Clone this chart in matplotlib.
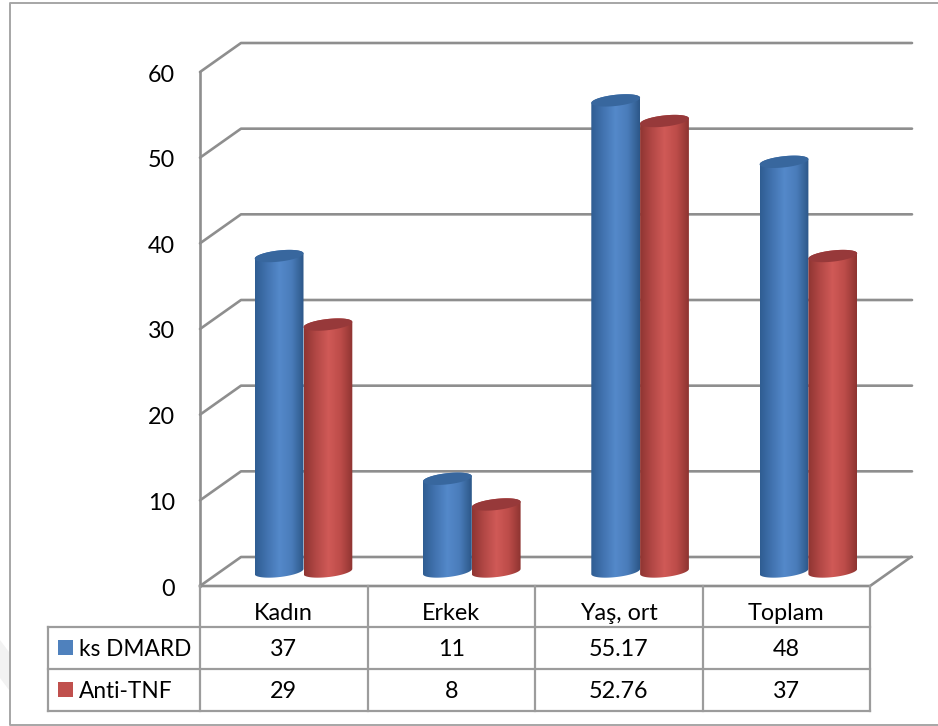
import numpy as np
import matplotlib
matplotlib.use('Agg')
import matplotlib.pyplot as plt
from matplotlib.colors import LinearSegmentedColormap
from matplotlib.patches import Polygon, Rectangle

categories = ['Kadın', 'Erkek', 'Yaş, ort', 'Toplam']
series_names = ['ks DMARD', 'Anti-TNF']
ks_dmard = [37, 11, 55.17, 48]
anti_tnf = [29, 8, 52.76, 37]
ks_labels = ['37', '11', '55.17', '48']
anti_labels = ['29', '8', '52.76', '37']
y_ticks = [0, 10, 20, 30, 40, 50, 60]

WIDTH, HEIGHT = 938, 726
PX_PER_CAT = 167.5
PX_PER_VAL = 514 / 60
X0, Y0 = 200, 586  # front corner of the floor, in pixels


def xd(px):
    return (px - X0) / PX_PER_CAT


def yd(px):
    return (Y0 - px) / PX_PER_VAL


fig = plt.figure(figsize=(WIDTH / 100, HEIGHT / 100), dpi=100)
ax = fig.add_axes([0, 0, 1, 1])
ax.axis('off')

plt.rcParams['font.family'] = ['Lato', 'DejaVu Sans']
TEXT_SIZE = 16.8
LEGEND_SIZE = 16.3
GRID = '#8e8e8e'
TABLE = '#9c9c9c'

# depth of the box
dx = 41 / PX_PER_CAT
dy = 29 / PX_PER_VAL

# outer frame and the faint mark on the left edge
ax.plot([xd(938), xd(10), xd(10), xd(938)], [yd(3), yd(3), yd(725), yd(725)],
        color='#a6a6a6', lw=1.4, zorder=1)
ax.add_patch(Polygon([(xd(0), yd(640)), (xd(9), yd(652)), (xd(9), yd(690)), (xd(0), yd(678))],
                     facecolor='#f2f2f2', edgecolor='none', zorder=1))

# walls and floor
for v in y_ticks:
    ax.plot([0, dx, xd(912)], [v, v + dy, v + dy], color=GRID, lw=1.9, zorder=2,
            solid_capstyle='round')
    ax.text(xd(175), v - 3 / PX_PER_VAL, str(v), ha='right', va='center', fontsize=TEXT_SIZE, color='black')
ax.plot([0, 0], [0, 60], color=GRID, lw=1.9, zorder=2)
ax.plot([0, 4, 4 + dx], [0, 0, dy], color=GRID, lw=1.9, zorder=2)

blue_map = LinearSegmentedColormap.from_list('blue_bar', ['#2f5d92', '#4273b0', '#5489ca', '#4a7cba', '#2c5788'])
red_map = LinearSegmentedColormap.from_list('red_bar', ['#8f3532', '#b34846', '#d05a57', '#bd4c49', '#8e3431'])
gradient = np.linspace(0, 1, 128).reshape(1, -1)

half_w = 24.4 / PX_PER_CAT
rim = 5.6 / PX_PER_VAL
tilt = 2.6 / PX_PER_VAL
lift = 13 / PX_PER_VAL
floor_lift = 14.5 / PX_PER_VAL
first_center = 103.5 / PX_PER_CAT
group_step = 168.3 / PX_PER_CAT


def cylinder(xc, value, cmap, top_color):
    t_low = np.linspace(np.pi, 2 * np.pi, 40)
    t_up = np.linspace(0, np.pi, 40)
    t_all = np.linspace(0, 2 * np.pi, 80)
    base = floor_lift
    top = value + lift
    body = np.vstack([
        np.column_stack([xc + half_w * np.cos(t_low), base + rim * np.sin(t_low) + tilt * np.cos(t_low)]),
        np.column_stack([xc + half_w * np.cos(t_up), top + rim * np.sin(t_up) + tilt * np.cos(t_up)]),
    ])
    patch = Polygon(body, closed=True, facecolor='none', edgecolor='none', zorder=3)
    ax.add_patch(patch)
    im = ax.imshow(gradient, cmap=cmap, aspect='auto', zorder=3, interpolation='bilinear',
                   extent=[xc - half_w, xc + half_w, base - 2 * rim, top + 2 * rim])
    im.set_clip_path(patch)
    ax.add_patch(Polygon(np.column_stack([xc + half_w * np.cos(t_all),
                                          top + rim * np.sin(t_all) + tilt * np.cos(t_all)]),
                         closed=True, facecolor=top_color, edgecolor='none', zorder=3))


for i in range(len(categories)):
    center = first_center + i * group_step
    cylinder(center - half_w, ks_dmard[i], blue_map, '#38679e')
    cylinder(center + half_w, anti_tnf[i], red_map, '#97393a')

# data table under the plot
row_y = [yd(627), yd(669), yd(711)]
for i in range(len(categories) + 1):
    ax.plot([i, i], [0, row_y[2]], color=TABLE, lw=1.6, zorder=2)
ax.plot([xd(48), xd(48)], [row_y[0], row_y[2]], color=TABLE, lw=1.6, zorder=2)
for r in row_y:
    ax.plot([xd(48), 4], [r, r], color=TABLE, lw=1.6, zorder=2)

for i, name in enumerate(categories):
    ax.text(i + 0.5, yd(614), name, ha='center', va='center', fontsize=TEXT_SIZE, color='black')
    ax.text(i + 0.5, yd(649), ks_labels[i], ha='center', va='center', fontsize=TEXT_SIZE, color='black')
    ax.text(i + 0.5, yd(691), anti_labels[i], ha='center', va='center', fontsize=TEXT_SIZE, color='black')

for name, color, py, swatch_top in zip(series_names, ['#4f81bd', '#c0504d'], [649, 691], [640, 682]):
    ax.add_patch(Rectangle((xd(58), yd(swatch_top + 15)), 15 / PX_PER_CAT, 15 / PX_PER_VAL,
                           facecolor=color, edgecolor='none', zorder=3))
    ax.text(xd(79), yd(py), name, ha='left', va='center', fontsize=LEGEND_SIZE, color='black')

ax.set_xlim(xd(0), xd(WIDTH))
ax.set_ylim(yd(HEIGHT), yd(0))

fig.savefig('out.png', dpi=100, facecolor='white')
